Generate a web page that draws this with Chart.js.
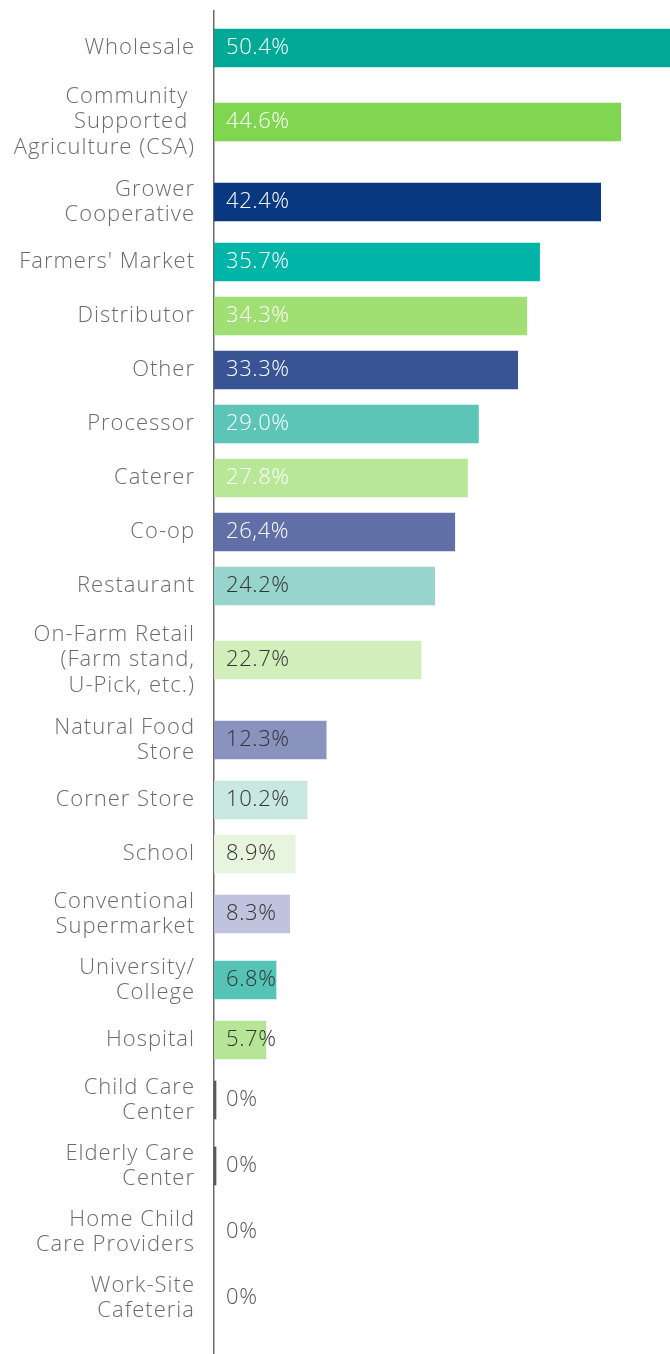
<!DOCTYPE html>
<html>
<head>
<meta charset="utf-8">
<script src="https://cdn.jsdelivr.net/npm/chart.js@4/dist/chart.umd.min.js"></script>
<style>
  html, body { margin: 0; padding: 0; background: #ffffff; }
  #wrap { position: relative; width: 670px; height: 1354px; }
</style>
</head>
<body>
<div id="wrap"><canvas id="c" width="670" height="1354"></canvas></div>
<script>
// ---- data ----
const categories = [
  ["Wholesale"],
  ["Community ", "Supported ", "Agriculture (CSA)"],
  ["Grower", "Cooperative"],
  ["Farmers' Market"],
  ["Distributor"],
  ["Other"],
  ["Processor"],
  ["Caterer"],
  ["Co-op"],
  ["Restaurant"],
  ["On-Farm Retail", "(Farm stand,", "U-Pick, etc.)"],
  ["Natural Food", "Store"],
  ["Corner Store"],
  ["School"],
  ["Conventional", "Supermarket"],
  ["University/", "College"],
  ["Hospital"],
  ["Child Care", "Center"],
  ["Elderly Care", "Center"],
  ["Home Child", "Care Providers"],
  ["Work-Site", "Cafeteria"]
];
const values = [50.4, 44.6, 42.4, 35.7, 34.3, 33.3, 29.0, 27.8, 26.4, 24.2, 22.7, 12.3, 10.2, 8.9, 8.3, 6.8, 5.7, 0, 0, 0, 0];
const valueLabels = ["50.4%", "44.6%", "42.4%", "35.7%", "34.3%", "33.3%", "29.0%", "27.8%", "26,4%", "24.2%", "22.7%", "12.3%", "10.2%", "8.9%", "8.3%", "6.8%", "5.7%", "0%", "0%", "0%", "0%"];
const barColors = ["#00a896", "#80d651", "#0a3880", "#00b5a7", "#a1de74", "#385493", "#5cc5b7", "#b7e797", "#606fa6", "#96d4cd", "#d2eeba", "#8a93be", "#c9e8e2", "#e8f5de", "#bfc3de", "#55c4b6", "#b7e597", "#5a5a5a", "#5a5a5a", "rgba(0,0,0,0)", "rgba(0,0,0,0)"];
const labelColors = ["#ffffff", "#ffffff", "#ffffff", "#ffffff", "#ffffff", "#ffffff", "#ffffff", "#ffffff", "#ffffff", "#333333", "#333333", "#333333", "#333333", "#333333", "#333333", "#333333", "#333333", "#555555", "#555555", "#555555", "#555555"];
const axisMax = 50;

// ---- layout: row slot height depends on number of label lines ----
const slotByLines = {1: 54, 2: 66, 3: 94};
const positions = [];
let acc = 0;
categories.forEach((lines, i) => {
  const h = slotByLines[lines.length];
  if (i === 0) acc = h / 2;
  else acc += (slotByLines[categories[i - 1].length] + h) / 2;
  positions.push(acc);
});
const totalSlots = categories.reduce((s, l) => s + slotByLines[l.length], 0);

const FONT = "'Open Sans', Lato, sans-serif";

const spacingPlugin = {
  id: 'spacing',
  beforeUpdate(chart) { chart.ctx.letterSpacing = '1px'; },
  beforeDraw(chart) { chart.ctx.letterSpacing = '1px'; }
};

const valueLabelPlugin = {
  id: 'valueLabels',
  afterDatasetsDraw(chart) {
    const ctx = chart.ctx;
    const meta = chart.getDatasetMeta(0);
    const xs = chart.scales.x;
    ctx.save();
    ctx.letterSpacing = '0.6px';
    ctx.font = "300 22px " + FONT;
    ctx.textBaseline = 'middle';
    ctx.textAlign = 'left';
    meta.data.forEach((bar, i) => {
      ctx.fillStyle = labelColors[i];
      ctx.fillText(valueLabels[i], xs.getPixelForValue(0) + 12, bar.y);
    });
    ctx.restore();
  }
};

new Chart(document.getElementById('c'), {
  type: 'bar',
  data: {
    datasets: [{
      data: values.map((v, i) => ({ x: v, y: positions[i] })),
      backgroundColor: barColors,
      borderWidth: 0,
      barThickness: 38,
      minBarLength: 2
    }]
  },
  options: {
    indexAxis: 'y',
    responsive: false,
    animation: false,
    devicePixelRatio: 1,
    layout: { padding: { top: 11, right: 0, bottom: 0, left: 0 } },
    plugins: { legend: { display: false }, tooltip: { enabled: false } },
    scales: {
      x: {
        type: 'linear',
        display: false,
        min: 0,
        max: axisMax
      },
      y: {
        type: 'linear',
        reverse: true,
        offset: false,
        min: -10,
        max: totalSlots + 23,
        afterBuildTicks: (scale) => { scale.ticks = positions.map(v => ({ value: v })); },
        afterFit: (scale) => {
          scale.width = 214;
          scale.paddingTop = 0; scale.paddingBottom = 0;
          scale.paddingLeft = 0; scale.paddingRight = 0;
        },
        grid: { display: false, drawTicks: false, offset: false },
        border: { display: true, color: '#6a6a6a', width: 1.5 },
        ticks: {
          autoSkip: false,
          padding: 19,
          color: '#6b6b6b',
          font: { family: FONT, size: 22, weight: '300', lineHeight: 1.16 },
          callback: (value) => {
            const idx = positions.indexOf(value);
            return idx >= 0 ? categories[idx] : '';
          }
        }
      }
    }
  },
  plugins: [spacingPlugin, valueLabelPlugin]
});
</script>
</body>
</html>
